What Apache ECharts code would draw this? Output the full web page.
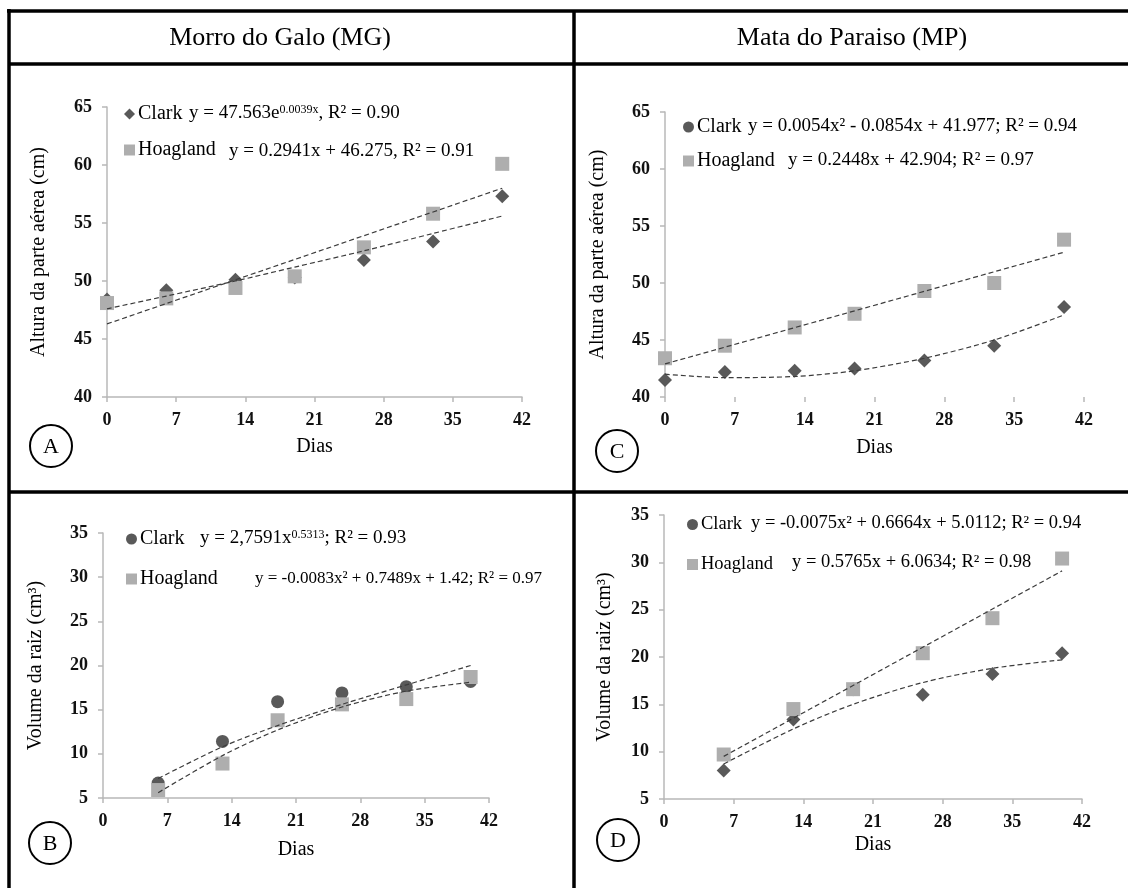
<!DOCTYPE html>
<html>
<head>
<meta charset="utf-8">
<script src="https://cdn.jsdelivr.net/npm/echarts@6/dist/echarts.min.js"></script>
<style>
  html, body { margin: 0; padding: 0; background: #fff; }
  #chart { width: 1128px; height: 888px; }
</style>
</head>
<body>
<div id="chart"></div>
<script>
'use strict';

// --- data ---
var dias = [0, 6, 13, 19, 26, 33, 40];
var diasRaiz = [6, 13, 19, 26, 33, 40];
var xTicks = ['0', '7', '14', '21', '28', '35', '42'];

// altura da parte aerea (cm)
var alturaClarkMG = [48.4, 49.2, 50.1, 50.3, 51.8, 53.4, 57.3];
var alturaHoaglandMG = [48.1, 48.5, 49.4, 50.4, 52.9, 55.8, 60.1];
var alturaClarkMP = [41.5, 42.2, 42.3, 42.5, 43.2, 44.5, 47.9];
var alturaHoaglandMP = [43.4, 44.5, 46.1, 47.3, 49.3, 50.0, 53.8];

// volume da raiz (cm3)
var raizClarkMG = [6.7, 11.4, 15.9, 16.9, 17.6, 18.2];
var raizHoaglandMG = [5.9, 8.9, 13.8, 15.6, 16.2, 18.7];
var raizClarkMP = [8.0, 13.4, 16.6, 16.0, 18.2, 20.4];
var raizHoaglandMP = [9.7, 14.5, 16.6, 20.4, 24.1, 30.4];

// trend lines as seen in the figure
var trendAlturaClarkMG = [47.6, 48.7, 50.0, 51.2, 52.6, 54.1, 55.6];
var trendDiasLinear = [0, 40];
var trendAlturaHoaglandMG = [46.3, 58.0];
var trendAlturaClarkMP = [42.0, 41.7, 41.8, 42.3, 43.4, 45.0, 47.2];
var trendAlturaHoaglandMP = [42.9, 52.7];
var trendRaizClarkMG = [7.2, 10.8, 13.2, 15.6, 17.8, 20.0];
var trendRaizHoaglandMG = [5.6, 9.8, 12.7, 15.3, 17.1, 18.1];
var trendRaizClarkMP = [8.7, 12.4, 15.0, 17.3, 18.8, 19.7];
var trendDiasRaizLinear = [6, 40];
var trendRaizHoaglandMP = [9.5, 29.1];

var SERIF = 'Liberation Serif';
var DARK = '#595959';
var LIGHT = '#aeaeae';

function pairs(xs, ys) {
  return xs.map(function (x, i) { return [x, ys[i]]; });
}

var grids = [
  { left: 107, top: 107, width: 415, height: 290 },  // A
  { left: 665, top: 112, width: 419, height: 285 },  // C
  { left: 103, top: 533, width: 386, height: 265 },  // B
  { left: 664, top: 515, width: 418, height: 284 }   // D
];

function xAxis(i, nameGap, hideLine) {
  return {
    type: 'value', gridIndex: i, min: 0, max: 42, interval: 7,
    name: 'Dias', nameLocation: 'middle', nameGap: nameGap,
    nameTextStyle: { fontFamily: SERIF, fontSize: 20, color: '#000' },
    axisLine: { show: !hideLine, lineStyle: { color: '#b8b8b8', width: 1.5 } },
    axisTick: { show: true, inside: false, length: 5, lineStyle: { color: '#b8b8b8', width: 1.5 } },
    axisLabel: {
      margin: 14, fontFamily: SERIF, fontSize: 18, fontWeight: 'bold', color: '#111',
      formatter: function (v) { return xTicks[v / 7]; }
    },
    splitLine: { show: false }
  };
}

function yAxis(i, min, max, name, nameGap) {
  return {
    type: 'value', gridIndex: i, min: min, max: max, interval: 5,
    name: name, nameLocation: 'middle', nameGap: nameGap, nameRotate: 90,
    nameTextStyle: { fontFamily: SERIF, fontSize: 20, color: '#000' },
    axisLine: { show: true, lineStyle: { color: '#b8b8b8', width: 1.5 } },
    axisTick: { show: true, length: 5, lineStyle: { color: '#b8b8b8', width: 1.5 } },
    axisLabel: { margin: 15, fontFamily: SERIF, fontSize: 18, fontWeight: 'bold', color: '#111' },
    splitLine: { show: false }
  };
}

function pts(i, name, symbol, size, color, data) {
  return {
    name: name, type: 'scatter', xAxisIndex: i, yAxisIndex: i,
    symbol: symbol, symbolSize: size, itemStyle: { color: color, opacity: 1 },
    data: data, z: name === 'Hoagland' ? 3 : 2
  };
}

function trend(i, key, data, smooth) {
  return {
    name: key, type: 'line', xAxisIndex: i, yAxisIndex: i,
    data: data, smooth: smooth, showSymbol: false, symbol: 'none',
    lineStyle: { color: '#3c3c3c', width: 1.2, type: [5, 3] }, z: 4
  };
}

function legend(left, top, gap, clarkIcon, fontSize) {
  return {
    left: left, top: top, orient: 'vertical', padding: 0, itemGap: gap,
    itemWidth: 11, itemHeight: 11, selectedMode: false,
    textStyle: { fontFamily: SERIF, fontSize: fontSize || 20, color: '#000', padding: [0, 0, 0, -2] },
    data: [{ name: 'Clark', icon: clarkIcon }, { name: 'Hoagland', icon: 'rect' }]
  };
}

function eq(x, y, text, size) {
  var fs = size || 19;
  return {
    type: 'text', left: x, top: y - fs / 2 - 1,
    style: {
      text: text, fill: '#000', font: fs + 'px "' + SERIF + '"',
      rich: {
        n: { fontFamily: SERIF, fontSize: fs, color: '#000' },
        s: { fontFamily: SERIF, fontSize: Math.round(fs * 0.62), color: '#000', verticalAlign: 'top' }
      }
    }
  };
}

function frameLine(x1, y1, x2, y2) {
  return {
    type: 'line', shape: { x1: x1, y1: y1, x2: x2, y2: y2 },
    style: { stroke: '#000', lineWidth: 3.5 }
  };
}

function badge(cx, cy, letter) {
  return {
    type: 'group', children: [
      { type: 'circle', shape: { cx: cx, cy: cy, r: 21 }, style: { fill: '#fff', stroke: '#000', lineWidth: 2 } },
      { type: 'text', x: cx, y: cy + 1, style: { text: letter, font: '22px "' + SERIF + '"', fill: '#000', align: 'center', verticalAlign: 'middle' } }
    ]
  };
}

function title(cx, text) {
  return {
    type: 'text', x: cx, y: 38,
    style: { text: text, font: '26px "' + SERIF + '"', fill: '#000', align: 'center', verticalAlign: 'middle' }
  };
}

var option = {
  animation: false,
  backgroundColor: '#fff',
  grid: grids.map(function (g) {
    return { left: g.left, top: g.top, width: g.width, height: g.height, containLabel: false, outerBoundsMode: 'none' };
  }),
  xAxis: [xAxis(0, 40), xAxis(1, 41, true), xAxis(2, 42), xAxis(3, 36)],
  yAxis: [
    yAxis(0, 40, 65, 'Altura da parte aérea (cm)', 58),
    yAxis(1, 40, 65, 'Altura da parte aérea (cm)', 57),
    yAxis(2, 5, 35, 'Volume da raiz (cm³)', 57),
    yAxis(3, 5, 35, 'Volume da raiz (cm³)', 49)
  ],
  legend: [
    legend(124, 104, 16, 'diamond'),
    legend(683, 117, 14, 'circle'),
    legend(126, 529, 20, 'circle'),
    legend(687, 515, 21, 'circle', 18.5)
  ],
  series: [
    pts(0, 'Clark', 'diamond', 14, DARK, pairs(dias, alturaClarkMG)),
    pts(0, 'Hoagland', 'rect', 14, LIGHT, pairs(dias, alturaHoaglandMG)),
    trend(0, 'trendClarkA', pairs(dias, trendAlturaClarkMG), 0.3),
    trend(0, 'trendHoaglandA', pairs(trendDiasLinear, trendAlturaHoaglandMG), false),

    pts(1, 'Clark', 'diamond', 14, DARK, pairs(dias, alturaClarkMP)),
    pts(1, 'Hoagland', 'rect', 14, LIGHT, pairs(dias, alturaHoaglandMP)),
    trend(1, 'trendClarkC', pairs(dias, trendAlturaClarkMP), 0.3),
    trend(1, 'trendHoaglandC', pairs(trendDiasLinear, trendAlturaHoaglandMP), false),

    pts(2, 'Clark', 'circle', 13, DARK, pairs(diasRaiz, raizClarkMG)),
    pts(2, 'Hoagland', 'rect', 14, LIGHT, pairs(diasRaiz, raizHoaglandMG)),
    trend(2, 'trendClarkB', pairs(diasRaiz, trendRaizClarkMG), 0.3),
    trend(2, 'trendHoaglandB', pairs(diasRaiz, trendRaizHoaglandMG), 0.3),

    pts(3, 'Clark', 'diamond', 14, DARK, pairs(diasRaiz, raizClarkMP)),
    pts(3, 'Hoagland', 'rect', 14, LIGHT, pairs(diasRaiz, raizHoaglandMP)),
    trend(3, 'trendClarkD', pairs(diasRaiz, trendRaizClarkMP), 0.3),
    trend(3, 'trendHoaglandD', pairs(trendDiasRaizLinear, trendRaizHoaglandMP), false)
  ],
  graphic: [
    frameLine(7, 11, 1128, 11),
    frameLine(9, 9, 9, 888),
    frameLine(9, 64, 1128, 64),
    frameLine(574, 11, 574, 888),
    frameLine(9, 492, 1128, 492),
    title(280, 'Morro do Galo (MG)'),
    title(852, 'Mata do Paraiso (MP)'),
    badge(51, 446, 'A'),
    badge(617, 451, 'C'),
    badge(50, 843, 'B'),
    badge(618, 840, 'D'),
    eq(189, 114, '{n|y = 47.563e}{s|0.0039x}{n|, R² = 0.90}'),
    eq(229, 152, '{n|y = 0.2941x + 46.275, R² = 0.91}'),
    eq(748, 127, '{n|y = 0.0054x² - 0.0854x + 41.977; R² = 0.94}'),
    eq(788, 161, '{n|y = 0.2448x + 42.904; R² = 0.97}'),
    eq(200, 539, '{n|y = 2,7591x}{s|0.5313}{n|; R² = 0.93}'),
    eq(255, 580, '{n|y = -0.0083x² + 0.7489x + 1.42; R² = 0.97}', 17),
    eq(751, 524, '{n|y = -0.0075x² + 0.6664x + 5.0112; R² = 0.94}', 18.5),
    eq(792, 563, '{n|y = 0.5765x + 6.0634; R² = 0.98}', 18.5)
  ]
};

var chart = echarts.init(document.getElementById('chart'));
chart.setOption(option);
</script>
</body>
</html>
